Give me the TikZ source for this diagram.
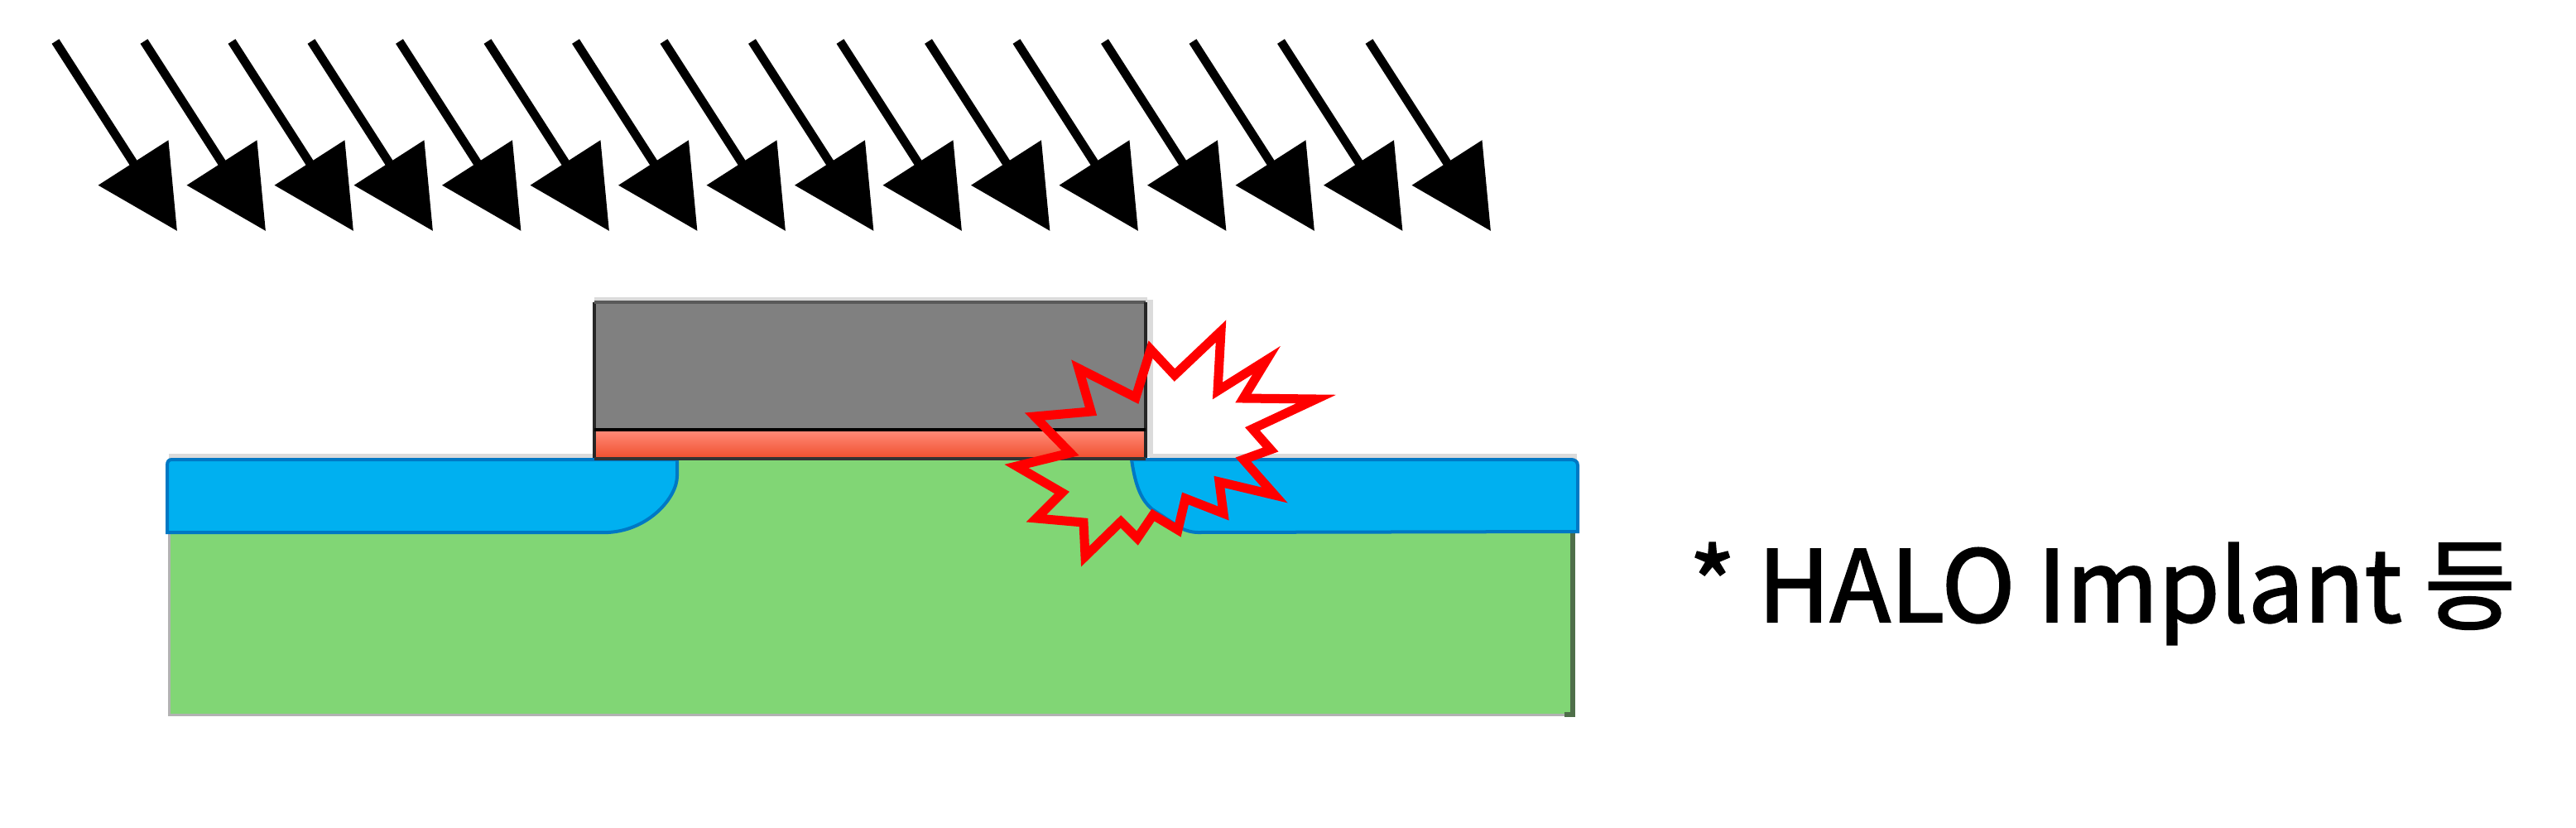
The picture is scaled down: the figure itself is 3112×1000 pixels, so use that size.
\documentclass[tikz,border=0pt]{standalone}
\usepackage{fontspec}
\newfontfamily\krfont[FakeBold=1.8]{Noto Sans CJK KR}
\usetikzlibrary{arrows.meta}
\definecolor{bodygreen}{HTML}{81D675}
\definecolor{wellblue}{HTML}{00B0F0}
\definecolor{welledge}{HTML}{0078C4}
\definecolor{gategray}{HTML}{808080}
\definecolor{oxidetop}{HTML}{FF8A78}
\definecolor{oxidebot}{HTML}{F0502F}
\definecolor{sideedge}{HTML}{4F6F4A}
\tikzset{
  ionarr/.style={-{Triangle[length=0.98cm,width=0.98cm]}, draw=black, line width=0.105cm},
  wellbox/.style={fill=wellblue, draw=welledge, line width=0.04cm},
  gateedge/.style={draw=black!85, line width=0.045cm},
  haloline/.style={draw=black!14, line width=0.07cm},
  burst/.style={draw=red, line width=0.11cm, miter limit=10},
  notelab/.style={font=\krfont\fontsize{34.1}{34.1}\selectfont, anchor=base west, inner sep=0pt},
}
\begin{document}
\begin{tikzpicture}[x=0.01cm,y=-0.01cm]
\useasboundingbox (0,0) rectangle (3112,1000);
\foreach \i/\dx in {1/0,2/107,3/213,4/309,5/415.5,6/522,7/628.5,8/735,9/841.5,10/948,11/1054.5,12/1161,13/1267.5,14/1374,15/1480.5,16/1587}{%
  \coordinate (ion\i) at (67+\dx,50);
  \coordinate (tip\i) at (214+\dx,279);
  \draw[ionarr] (ion\i) -- (tip\i);
}
\fill[bodygreen] (204,553) rectangle (1900,863);
\draw[black!30, line width=0.03cm] (204,640) -- (204,863) -- (1900,863);
\draw[draw=sideedge, line width=0.06cm] (1900,640) -- (1900,863) -- (1890,863);
\draw[haloline] (718,362) -- (1386,362);
\draw[haloline] (1389,362) -- (1389,552);
\draw[haloline] (204,551) -- (718,551);
\draw[haloline] (1389,551) -- (1905,551);
\draw[wellbox] (818,555) -- (818,575) .. controls (818,600) and (785,640) .. (735,643)
  -- (202,643) -- (202,562) .. controls (202,557) and (204,555) .. (208,555) -- cycle;
\draw[wellbox] (1367,555) .. controls (1372,590) and (1380,605) .. (1392,615) -- (1427,638)
  .. controls (1433,641) and (1440,643) .. (1447,643) -- (1906,642) -- (1906,562)
  .. controls (1906,557) and (1902,555) .. (1898,555) -- cycle;
\fill[gategray] (718,365) rectangle (1384,518);
\shade[top color=oxidetop, bottom color=oxidebot] (718,520) rectangle (1384,553);
\draw[gateedge] (718,553) -- (718,365);
\draw[gategray!70!black, line width=0.04cm] (718,365) -- (1384,365);
\draw[gateedge] (1384,365) -- (1384,553);
\draw[black, line width=0.04cm] (718,519) -- (1384,519);
\draw[black!80, line width=0.035cm] (718,554) -- (1384,554);
\draw[burst] (1390,422) -- (1419,453) -- (1475,400) -- (1471,472) -- (1530,435)
  -- (1502,481) -- (1590,482) -- (1513,518) -- (1535,543) -- (1502,555)
  -- (1540,598) -- (1473,582) -- (1478,620) -- (1432,602) -- (1423,640)
  -- (1393,622) -- (1374,650) -- (1354,630) -- (1311,672) -- (1309,631)
  -- (1252,626) -- (1283,595) -- (1228,563) -- (1293,547) -- (1250,503)
  -- (1318,497) -- (1303,445) -- (1372,480) -- cycle;
\node[notelab] (note) at (2040,751) {* HALO Implant 등};
\end{tikzpicture}
\end{document}
